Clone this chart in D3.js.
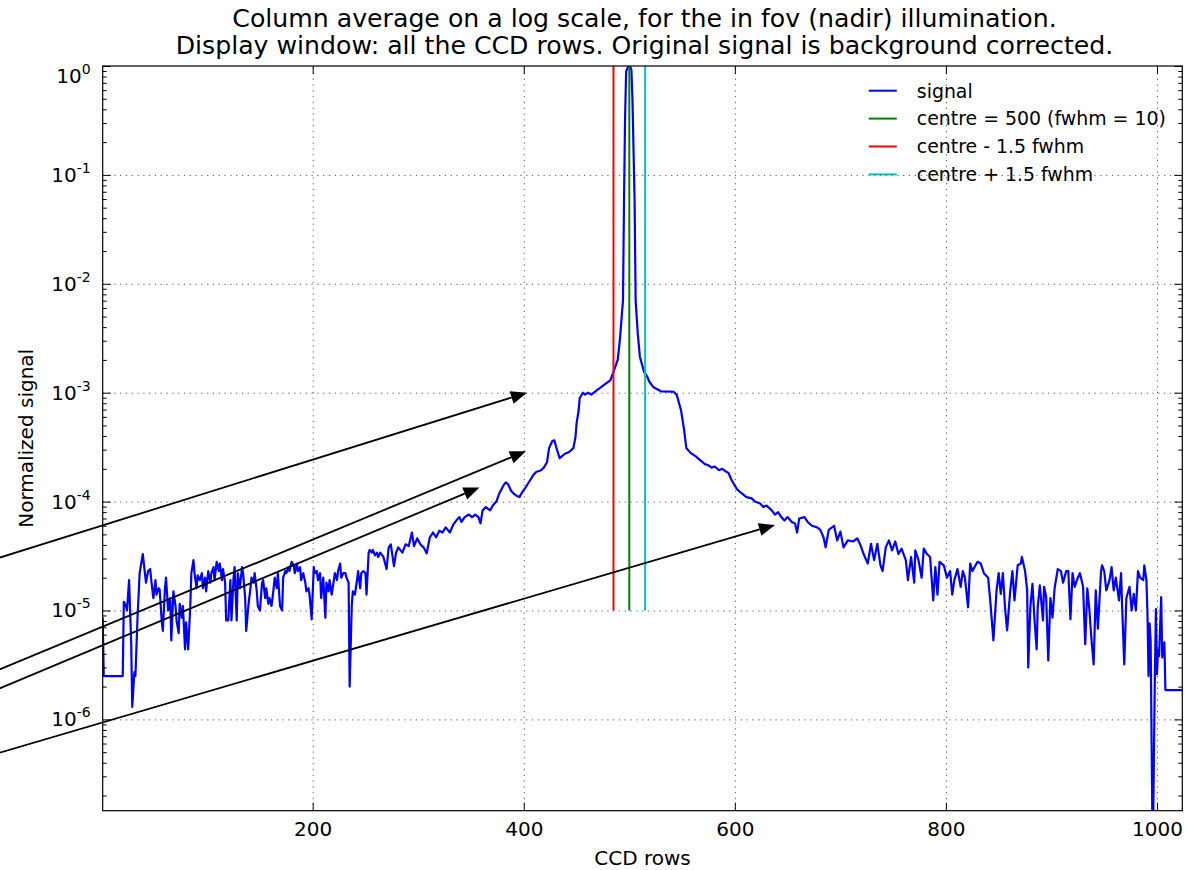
<!DOCTYPE html>
<html>
<head>
<meta charset="utf-8">
<script src="https://cdn.jsdelivr.net/npm/d3@7"></script>
<style>
  body { margin: 0; background: #fff; }
  text { font-family: "DejaVu Sans", sans-serif; fill: #000; }
</style>
</head>
<body>
<div id="chart"></div>
<script>

// ---- data ----
const titleLines = [
    "Column average on a log scale, for the in fov (nadir) illumination.",
    "Display window: all the CCD rows. Original signal is background corrected."
];
const xLabel = "CCD rows";
const yLabel = "Normalized signal";

// [CCD row, normalized signal]
const signal = [
    [1, 8.6e-6], [2, 2.5e-6], [20, 2.5e-6], [21, 1.2e-5], [23, 1.1e-5], [24, 1.0e-5], [26, 1.9e-5],
    [28, 5e-6], [29, 1.3e-6], [31, 2.7e-6], [32, 2.5e-6], [34, 8.6e-6], [36, 2.2e-5], [39, 3.3e-5],
    [41, 2.2e-5], [42, 1.8e-5], [44, 2.3e-5], [46, 2.4e-5], [47, 1.9e-5], [49, 1.3e-5], [51, 1.9e-5],
    [52, 1.4e-5], [54, 1.6e-5], [55, 1.55e-5], [57, 7.8e-6], [58, 6.5e-6], [60, 1.6e-5], [61, 2.0e-5],
    [63, 1.0e-5], [65, 1.3e-5], [66, 5.3e-6], [68, 1.5e-5], [70, 1.1e-5], [71, 8.1e-6], [73, 6.2e-6],
    [74, 1.15e-5], [76, 8.6e-6], [77, 1.1e-5], [79, 4.4e-6], [80, 7.8e-6], [82, 4.4e-6], [84, 1.1e-5],
    [85, 2.2e-5], [87, 2.9e-5], [88, 2.2e-5], [90, 1.6e-5], [91, 2.1e-5], [93, 1.9e-5], [95, 2.2e-5],
    [96, 1.6e-5], [98, 2.0e-5], [99, 1.5e-5], [101, 2.3e-5], [103, 1.8e-5], [104, 2.2e-5], [106, 2.5e-5],
    [107, 1.9e-5], [109, 2.8e-5], [111, 2.3e-5], [112, 2.7e-5], [114, 1.9e-5], [115, 2.4e-5], [117, 1.8e-5],
    [118, 8.1e-6], [120, 8.1e-6], [122, 1.9e-5], [123, 8.1e-6], [125, 2.0e-5], [126, 2.5e-5], [128, 8.1e-6],
    [129, 2.2e-5], [131, 1.6e-5], [133, 2.5e-5], [134, 2.2e-5], [136, 1.3e-5], [137, 6.5e-6], [139, 1.1e-5],
    [141, 1.6e-5], [142, 2.0e-5], [144, 1.8e-5], [145, 2.2e-5], [147, 1.5e-5], [148, 1.1e-5], [150, 1.0e-5],
    [152, 1.8e-5], [153, 1.9e-5], [155, 1.3e-5], [156, 1.6e-5], [158, 1.15e-5], [159, 1.3e-5], [161, 1.1e-5],
    [163, 1.6e-5], [164, 2.0e-5], [166, 1.6e-5], [167, 2.2e-5], [169, 1.1e-5], [171, 1.0e-5], [172, 2.0e-5],
    [174, 2.3e-5], [175, 2.2e-5], [177, 2.5e-5], [178, 2.3e-5], [180, 2.8e-5], [182, 2.6e-5], [183, 2.2e-5],
    [185, 2.7e-5], [186, 2.3e-5], [188, 2.5e-5], [189, 1.9e-5], [191, 2.2e-5], [193, 1.8e-5], [194, 1.5e-5],
    [196, 1.6e-5], [197, 1.4e-5], [199, 8.3e-6], [201, 2.5e-5], [202, 2.2e-5], [204, 2.3e-5], [205, 1.9e-5],
    [207, 2.2e-5], [208, 1.3e-5], [210, 2.0e-5], [212, 8.6e-6], [213, 1.8e-5], [215, 1.5e-5], [216, 1.9e-5],
    [218, 1.4e-5], [220, 1.9e-5], [221, 2.2e-5], [223, 1.9e-5], [224, 2.3e-5], [226, 2.7e-5], [227, 2.0e-5],
    [229, 2.2e-5], [231, 2.2e-5], [232, 2.0e-5], [234, 1.8e-5], [235, 2.0e-6], [237, 1.1e-5], [238, 1.5e-5],
    [240, 1.4e-5], [242, 1.9e-5], [243, 2.3e-5], [245, 1.6e-5], [246, 2.2e-5], [248, 2.3e-5], [250, 2.2e-5],
    [251, 1.4e-5], [253, 3.4e-5], [254, 3.6e-5], [256, 3.4e-5], [257, 3.6e-5], [259, 3.2e-5], [261, 3.4e-5],
    [262, 3.1e-5], [264, 3.4e-5], [267, 3.1e-5], [270, 2.4e-5], [272, 3.8e-5], [274, 4.05e-5], [277, 2.55e-5],
    [279, 3.4e-5], [281, 3.8e-5], [285, 3.4e-5], [288, 4.05e-5], [291, 3.9e-5], [294, 5.2e-5], [296, 3.9e-5],
    [299, 4.6e-5], [302, 4.05e-5], [305, 3.8e-5], [308, 3.35e-5], [311, 4.7e-5], [314, 5.2e-5], [317, 4.7e-5],
    [320, 5.4e-5], [323, 5.2e-5], [326, 5.8e-5], [330, 5.2e-5], [333, 6.1e-5], [336, 6.7e-5], [339, 7.2e-5],
    [341, 6.5e-5], [344, 7.2e-5], [348, 7.6e-5], [351, 7.2e-5], [354, 7.6e-5], [357, 7.2e-5], [359, 6.3e-5],
    [361, 8.3e-5], [364, 8.9e-5], [368, 8.3e-5], [371, 9.3e-5], [374, 1.0e-4], [377, 1.2e-4], [381, 1.42e-4],
    [383, 1.5e-4], [385, 1.45e-4], [388, 1.26e-4], [391, 1.17e-4], [394, 1.12e-4], [396, 1.1e-4], [399, 1.24e-4],
    [402, 1.36e-4], [406, 1.57e-4], [409, 1.75e-4], [412, 1.88e-4], [416, 1.93e-4], [419, 2.05e-4], [422, 2.3e-4],
    [424, 3.1e-4], [427, 3.6e-4], [429, 3.65e-4], [431, 3.1e-4], [434, 2.5e-4], [436, 2.6e-4], [439, 2.75e-4],
    [443, 2.85e-4], [447, 3.1e-4], [449, 3.9e-4], [450, 5.2e-4], [452, 6.9e-4], [453, 8.9e-4], [456, 1.0e-3],
    [458, 9.6e-4], [461, 1.0e-3], [464, 9.6e-4], [469, 1.05e-3], [472, 1.1e-3], [477, 1.2e-3], [482, 1.3e-3],
    [485, 1.55e-3], [489, 2.0e-3], [491, 3.0e-3], [493, 5.3e-3], [494, 7.0e-3], [495, 5.9e-2], [496, 0.34],
    [497, 0.89], [499, 0.99], [500, 1.0], [501, 0.98], [502, 0.92], [503, 0.49], [505, 5.9e-2], [506, 7.0e-3],
    [508, 3.5e-3], [510, 2.14e-3], [514, 1.55e-3], [517, 1.4e-3], [519, 1.26e-3], [523, 1.12e-3], [530, 1.03e-3],
    [542, 1.02e-3], [545, 9.5e-4], [549, 6.9e-4], [552, 4.5e-4], [554, 3.1e-4], [558, 2.8e-4], [563, 2.6e-4],
    [567, 2.4e-4], [572, 2.2e-4], [575, 2.15e-4], [578, 2.05e-4], [581, 2.1e-4], [585, 1.94e-4], [588, 2.0e-4],
    [591, 1.9e-4], [594, 1.83e-4], [597, 1.57e-4], [602, 1.3e-4], [606, 1.2e-4], [611, 1.1e-4], [616, 1.07e-4],
    [619, 1.0e-4], [624, 9.6e-5], [627, 8.9e-5], [630, 9.2e-5], [635, 8.3e-5], [638, 7.6e-5], [641, 8.0e-5],
    [644, 7.2e-5], [647, 6.7e-5], [650, 7.2e-5], [654, 6.5e-5], [657, 6.3e-5], [659, 5.2e-5], [661, 7.0e-5],
    [666, 7.2e-5], [669, 6.5e-5], [673, 6.0e-5], [678, 5.8e-5], [681, 5.5e-5], [684, 4.7e-5], [686, 3.8e-5],
    [689, 5.5e-5], [694, 6.0e-5], [697, 4.4e-5], [700, 5.3e-5], [703, 3.8e-5], [707, 4.4e-5], [712, 4.3e-5],
    [716, 4.6e-5], [719, 4.0e-5], [722, 3.3e-5], [726, 2.7e-5], [729, 4.1e-5], [732, 2.9e-5], [735, 4.1e-5],
    [738, 2.6e-5], [740, 2.3e-5], [743, 3.8e-5], [746, 4.4e-5], [749, 3.56e-5], [752, 4.3e-5], [755, 3.3e-5],
    [758, 3.7e-5], [762, 2.9e-5], [764, 1.9e-5], [767, 3.1e-5], [770, 1.8e-5], [771, 3.56e-5], [774, 2.9e-5],
    [777, 2.0e-5], [779, 3.7e-5], [782, 3.3e-5], [785, 3.1e-5], [788, 1.24e-5], [790, 2.5e-5], [792, 1.4e-5],
    [794, 2.8e-5], [798, 2.6e-5], [801, 2.0e-5], [804, 2.3e-5], [806, 1.4e-5], [808, 1.9e-5], [811, 2.4e-5],
    [814, 1.65e-5], [816, 2.3e-5], [818, 2.0e-5], [821, 1.07e-5], [823, 2.7e-5], [825, 2.3e-5], [830, 2.8e-5],
    [833, 2.7e-5], [836, 2.2e-5], [840, 2.0e-5], [842, 1.24e-5], [845, 5.3e-6], [848, 1.53e-5], [850, 2.2e-5],
    [852, 1.42e-5], [854, 2.2e-5], [856, 1.07e-5], [858, 6.55e-6], [861, 1.53e-5], [863, 2.3e-5], [865, 1.24e-5],
    [868, 2.6e-5], [871, 2.7e-5], [872, 3.1e-5], [875, 2.3e-5], [877, 1.53e-5], [878, 3.0e-6], [880, 1.07e-5],
    [882, 1.76e-5], [884, 8.1e-6], [886, 4.4e-6], [887, 1.07e-5], [889, 1.7e-5], [892, 8.1e-6], [893, 1.65e-5],
    [895, 1.33e-5], [897, 3.47e-6], [899, 1.3e-5], [901, 8.6e-6], [903, 1.6e-5], [906, 2.4e-5], [909, 2.3e-5],
    [911, 1.8e-5], [914, 2.3e-5], [916, 2.3e-5], [918, 8.3e-6], [920, 2.2e-5], [922, 1.65e-5], [925, 2.0e-5],
    [927, 2.2e-5], [930, 1.65e-5], [932, 4.9e-6], [934, 1.6e-5], [936, 1.0e-5], [938, 5.3e-6], [940, 3.2e-6],
    [942, 1.53e-5], [944, 6.8e-6], [947, 2.3e-5], [948, 2.6e-5], [950, 2.3e-5], [952, 1.53e-5], [955, 1.9e-5],
    [957, 2.5e-5], [959, 1.53e-5], [961, 2.0e-5], [964, 1.24e-5], [966, 2.2e-5], [967, 1.07e-5], [969, 3.2e-6],
    [971, 1.3e-5], [974, 1.65e-5], [976, 1.0e-5], [978, 1.42e-5], [980, 1.0e-5], [982, 2.3e-5], [984, 2.0e-5],
    [987, 1.9e-5], [988, 2.6e-5], [990, 1.9e-5], [991, 9.4e-6], [992, 2.5e-6], [993, 7.6e-6], [994, 5.3e-6],
    [996, 5e-8], [998, 2.6e-6], [999, 1.03e-5], [1000, 2.6e-6], [1001, 4.3e-6], [1002, 3.8e-6], [1004, 1.33e-5],
    [1005, 3.7e-6], [1007, 5.1e-6], [1008, 1.86e-6], [1024, 1.86e-6]
];

// vertical markers: centre, centre - 1.5 fwhm, centre + 1.5 fwhm
const markerRows = [500, 485, 515];
const markerSpan = [1e-5, 1];

const legendLabels = ["signal", "centre = 500 (fwhm = 10)", "centre - 1.5 fwhm", "centre + 1.5 fwhm"];
const colors = ["#0000ff", "#008000", "#ff0000", "#00bfbf"];

// annotation arrows (row, value): tails sit off the left of the figure
const arrowTails = [[-150, 2.11e-5], [-150, 1.76e-6], [-150, 1.17e-6], [-150, 3.48e-7]];
const arrowTips = [[403, 1.0e-3], [402, 2.9e-4], [358, 1.35e-4], [638, 6.1e-5]];

const xTicks = [200, 400, 600, 800, 1000];
const yTicks = [1e0, 1e-1, 1e-2, 1e-3, 1e-4, 1e-5, 1e-6];
const yExponents = ["0", "-1", "-2", "-3", "-4", "-5", "-6"];
const xDomain = [1, 1024];
const yDomain = [1.45e-7, 1];

// ---- layout ----
const W = 1190, H = 870;
const margin = { top: 66, right: 7.7, bottom: 59.3, left: 102.7 };
const width = W - margin.left - margin.right;
const height = H - margin.top - margin.bottom;

const xScale = d3.scaleLinear().domain(xDomain).range([0, width]);
const yScale = d3.scaleLog().domain(yDomain).range([height, 0]);

// minor log ticks 2..9 x 10^k inside the domain
const yMinor = [];
for (let e = -7; e <= -1; e++) {
    for (let m = 2; m <= 9; m++) {
        const v = m * Math.pow(10, e);
        if (v >= yDomain[0] && v <= yDomain[1]) yMinor.push(v);
    }
}

const root = d3.select("#chart")
    .append("svg")
    .attr("width", W)
    .attr("height", H);

root.append("rect").attr("width", W).attr("height", H).attr("fill", "#fff");

const svg = root.append("g")
    .attr("transform", "translate(" + margin.left + "," + margin.top + ")");

svg.append("defs").append("clipPath").attr("id", "plot-clip")
    .append("rect").attr("width", width).attr("height", height);

// grid
const gridStyle = sel => {
    sel.select(".domain").remove();
    sel.selectAll("line")
        .attr("stroke", "#000")
        .attr("stroke-width", 0.9)
        .attr("stroke-dasharray", "1.2,4.6")
        .attr("stroke-opacity", 0.75);
};
svg.append("g")
    .attr("transform", "translate(0," + height + ")")
    .call(d3.axisBottom(xScale).tickValues(xTicks).tickSize(-height).tickFormat(""))
    .call(gridStyle);
svg.append("g")
    .call(d3.axisLeft(yScale).tickValues(yTicks.slice(1)).tickSize(-width).tickFormat(""))
    .call(gridStyle);

// signal
const line = d3.line()
    .x(d => xScale(d[0]))
    .y(d => yScale(d[1]));

svg.append("path")
    .datum(signal)
    .attr("clip-path", "url(#plot-clip)")
    .attr("d", line)
    .attr("fill", "none")
    .attr("stroke", colors[0])
    .attr("stroke-width", 2.2)
    .attr("stroke-linejoin", "round");

// centre markers
svg.selectAll(".marker")
    .data(markerRows)
    .enter()
    .append("line")
    .attr("class", "marker")
    .attr("x1", d => xScale(d))
    .attr("x2", d => xScale(d))
    .attr("y1", yScale(markerSpan[0]))
    .attr("y2", yScale(markerSpan[1]))
    .attr("stroke", (d, i) => colors[i + 1])
    .attr("stroke-width", 2);

// axes, ticks pointing inwards
const tickStyle = sel => {
    sel.select(".domain").remove();
    sel.selectAll("line").attr("stroke", "#000").attr("stroke-width", 1);
    sel.selectAll("text").attr("font-size", 20).attr("font-family", "DejaVu Sans").attr("fill", "#000");
};

svg.append("g")
    .attr("transform", "translate(0," + height + ")")
    .call(d3.axisBottom(xScale).tickValues(xTicks).tickSize(-8).tickPadding(11).tickFormat(d3.format("d")))
    .call(tickStyle);
svg.append("g")
    .call(d3.axisTop(xScale).tickValues(xTicks).tickSize(-8).tickFormat(""))
    .call(tickStyle);

svg.append("g")
    .call(d3.axisLeft(yScale).tickValues(yTicks).tickSize(-8).tickFormat(""))
    .call(tickStyle);
svg.append("g")
    .call(d3.axisLeft(yScale).tickValues(yMinor).tickSize(-4).tickFormat(""))
    .call(tickStyle);
svg.append("g")
    .attr("transform", "translate(" + width + ",0)")
    .call(d3.axisRight(yScale).tickValues(yTicks).tickSize(-8).tickFormat(""))
    .call(tickStyle);
svg.append("g")
    .attr("transform", "translate(" + width + ",0)")
    .call(d3.axisRight(yScale).tickValues(yMinor).tickSize(-4).tickFormat(""))
    .call(tickStyle);

// 10^k labels; the one at the very top sits a little lower, as in the original
const yLab = svg.append("g").selectAll("text")
    .data(yTicks)
    .enter()
    .append("text")
    .attr("x", -12)
    .attr("y", d => yScale(d) + (yScale(d) < 1 ? 16.5 : 7))
    .attr("text-anchor", "end")
    .attr("font-size", 20);
yLab.append("tspan").text("10");
yLab.append("tspan")
    .attr("dy", -9)
    .attr("font-size", 14)
    .text((d, i) => yExponents[i]);

// frame
svg.append("rect")
    .attr("width", width)
    .attr("height", height)
    .attr("fill", "none")
    .attr("stroke", "#000")
    .attr("stroke-width", 1.2);

// axis labels
svg.append("text")
    .attr("x", width / 2)
    .attr("y", height + 54.5)
    .attr("text-anchor", "middle")
    .attr("font-size", 20)
    .text(xLabel);

svg.append("text")
    .attr("transform", "translate(-70," + (height / 2) + ") rotate(-90)")
    .attr("text-anchor", "middle")
    .attr("font-size", 20)
    .text(yLabel);

// title
svg.selectAll(".title")
    .data(titleLines)
    .enter()
    .append("text")
    .attr("class", "title")
    .attr("x", width / 2 + 2)
    .attr("y", (d, i) => -38.7 + i * 27)
    .attr("text-anchor", "middle")
    .attr("font-size", 25.2)
    .text(d => d);

// legend (no frame)
const legend = svg.append("g")
    .attr("transform", "translate(" + (width - 313.5) + ",24.7)");
const item = legend.selectAll("g")
    .data(legendLabels)
    .enter()
    .append("g")
    .attr("transform", (d, i) => "translate(0," + i * 27.9 + ")");
item.append("line")
    .attr("x1", 0).attr("x2", 28)
    .attr("stroke", (d, i) => colors[i])
    .attr("stroke-width", 2);
item.append("text")
    .attr("x", 48)
    .attr("dy", "0.36em")
    .attr("font-size", 18.9)
    .text(d => d);

// arrows
const headLen = 16, headHalf = 6.5;
arrowTips.forEach((tip, i) => {
    const p0 = [xScale(arrowTails[i][0]), yScale(arrowTails[i][1])];
    const p1 = [xScale(tip[0]), yScale(tip[1])];
    const dx = p1[0] - p0[0], dy = p1[1] - p0[1];
    const len = Math.sqrt(dx * dx + dy * dy);
    const ux = dx / len, uy = dy / len;
    const bx = p1[0] - ux * headLen, by = p1[1] - uy * headLen;

    svg.append("line")
        .attr("x1", p0[0]).attr("y1", p0[1])
        .attr("x2", bx).attr("y2", by)
        .attr("stroke", "#000")
        .attr("stroke-width", 1.8);

    svg.append("path")
        .attr("d", "M" + p1[0] + "," + p1[1]
            + "L" + (bx - uy * headHalf) + "," + (by + ux * headHalf)
            + "L" + (bx + uy * headHalf) + "," + (by - ux * headHalf) + "Z")
        .attr("fill", "#000");
});

</script>
</body>
</html>
